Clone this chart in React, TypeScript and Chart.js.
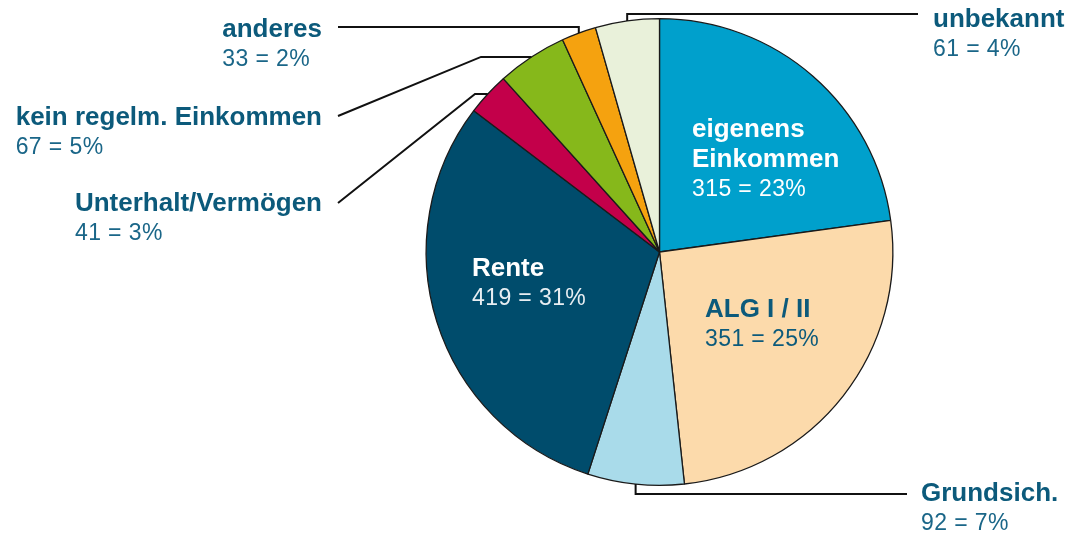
import React, { useEffect, useRef } from 'react';
import { Chart, registerables } from 'chart.js';

Chart.register(...registerables);

const categories = [
  'eigenens Einkommen',
  'ALG I / II',
  'Grundsich.',
  'Rente',
  'Unterhalt/Vermögen',
  'kein regelm. Einkommen',
  'anderes',
  'unbekannt',
];
const counts = [315, 351, 92, 419, 41, 67, 33, 61];
const percents = [23, 25, 7, 31, 3, 5, 2, 4];
const sliceColors = ['#00a0cc', '#fcdaab', '#a9dbea', '#004c6c', '#c3004a', '#86b81b', '#f5a20f', '#e9f1da'];

const FONT = '"Liberation Sans", Arial, Helvetica, sans-serif';
const TEAL = '#0c5a7b';
const TEAL_NUM = '#1a6688';

type Layout = {
  inside?: boolean;
  lines: string[];
  x: number;
  y: number;
  alignRight?: boolean;
  color: string;
  numColor: string;
  path?: (a: { x: number; y: number }) => Array<[number, number]>;
};

const layouts: Record<number, Layout> = {
  0: { inside: true, lines: ['eigenens', 'Einkommen'], x: 692, y: 137, color: '#ffffff', numColor: '#ffffff' },
  1: { inside: true, lines: ['ALG I / II'], x: 705, y: 317, color: TEAL, numColor: TEAL },
  3: { inside: true, lines: ['Rente'], x: 472, y: 276, color: '#ffffff', numColor: '#e8eef2' },
  7: {
    lines: ['unbekannt'], x: 933, y: 27, color: TEAL, numColor: TEAL_NUM,
    path: (a) => [[a.x, a.y], [a.x, 14], [918, 14]],
  },
  6: {
    lines: ['anderes'], x: 322, y: 37, alignRight: true, color: TEAL, numColor: TEAL_NUM,
    path: (a) => [[a.x, a.y], [a.x, 27], [338, 27]],
  },
  5: {
    lines: ['kein regelm. Einkommen'], x: 322, y: 125, alignRight: true, color: TEAL, numColor: TEAL_NUM,
    path: (a) => [[a.x, a.y], [481, a.y], [338, 116]],
  },
  4: {
    lines: ['Unterhalt/Vermögen'], x: 322, y: 211, alignRight: true, color: TEAL, numColor: TEAL_NUM,
    path: (a) => [[a.x, a.y], [475, a.y], [338, 203]],
  },
  2: {
    lines: ['Grundsich.'], x: 921, y: 501, color: TEAL, numColor: TEAL_NUM,
    path: (a) => [[a.x, a.y], [a.x, 494], [907, 494]],
  },
};

const labelPlugin = {
  id: 'pieLabels',
  afterDraw(chart: any) {
    const ctx: CanvasRenderingContext2D = chart.ctx;
    const meta = chart.getDatasetMeta(0);
    ctx.save();
    meta.data.forEach((arc: any, i: number) => {
      const lay = layouts[i];
      if (!lay) return;
      const mid = (arc.startAngle + arc.endAngle) / 2;
      const anchor = { x: arc.x + Math.cos(mid) * arc.outerRadius, y: arc.y + Math.sin(mid) * arc.outerRadius };
      if (lay.path) {
        const pts = lay.path(anchor);
        ctx.beginPath();
        ctx.strokeStyle = '#111111';
        ctx.lineWidth = 2;
        ctx.lineJoin = 'miter';
        ctx.moveTo(pts[0][0], pts[0][1]);
        for (let k = 1; k < pts.length; k++) ctx.lineTo(pts[k][0], pts[k][1]);
        ctx.stroke();
      }
      const numText = `${counts[i]} = ${percents[i]}%`;
      ctx.textBaseline = 'alphabetic';
      ctx.textAlign = 'left';
      ctx.font = `bold 26px ${FONT}`;
      (ctx as any).letterSpacing = '0px';
      let left = lay.x;
      if (lay.alignRight) {
        const w = Math.max(...lay.lines.map((l) => ctx.measureText(l).width));
        left = lay.x - w;
      }
      let y = lay.y;
      ctx.fillStyle = lay.color;
      lay.lines.forEach((l) => {
        ctx.fillText(l, left, y);
        y += 30;
      });
      ctx.font = `23px ${FONT}`;
      (ctx as any).letterSpacing = '0.4px';
      ctx.fillStyle = lay.numColor;
      ctx.fillText(numText, left, y - 1);
    });
    ctx.restore();
  },
};

export default function App() {
  const ref = useRef<HTMLCanvasElement | null>(null);
  useEffect(() => {
    if (!ref.current) return;
    const chart = new Chart(ref.current, {
      type: 'pie',
      data: {
        labels: categories,
        datasets: [
          {
            data: counts,
            backgroundColor: sliceColors,
            borderColor: '#1a1a1a',
            borderWidth: 1.3,
          },
        ],
      },
      options: {
        responsive: false,
        animation: false,
        rotation: 0,
        layout: { padding: { left: 425, right: 180, top: 18, bottom: 47 } },
        plugins: {
          legend: { display: false },
          tooltip: { enabled: false },
        },
      },
      plugins: [labelPlugin],
    });
    return () => chart.destroy();
  }, []);
  return (
    <div style={{ position: 'fixed', left: 0, top: 0, width: 1074, height: 533, background: '#ffffff' }}>
      <canvas ref={ref} width={1074} height={533} style={{ width: 1074, height: 533, display: 'block' }} />
    </div>
  );
}
